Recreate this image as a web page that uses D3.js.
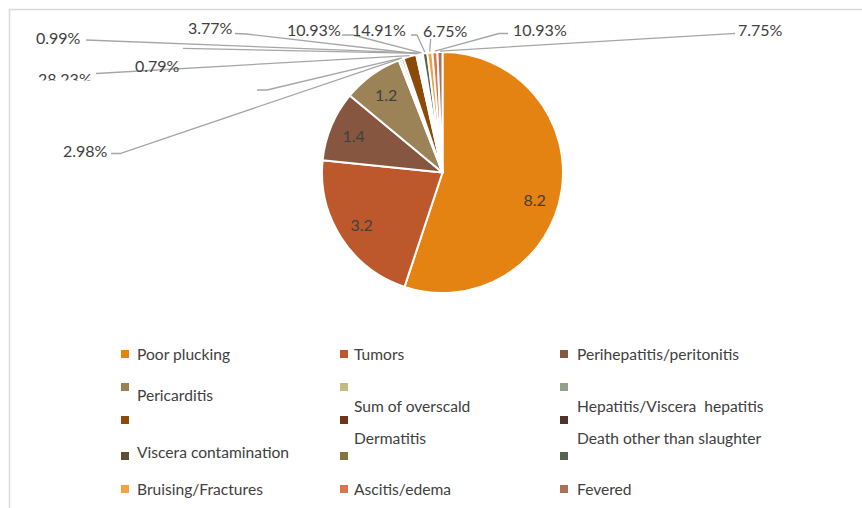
<!DOCTYPE html>
<html>
<head>
<meta charset="utf-8">
<script src="https://cdn.jsdelivr.net/npm/d3@7"></script>
<style>
  html, body { margin: 0; padding: 0; background: #ffffff; }
  svg { display: block; }
  text { font-family: Lato, "Open Sans", sans-serif; }
</style>
</head>
<body>
<svg id="chart" width="862" height="508"></svg>
<script>
// Condemnation causes (values as plotted)
const categories = [
  "Poor plucking", "Tumors", "Perihepatitis/peritonitis", "Pericarditis",
  "Sum of overscald", "Hepatitis/Viscera  hepatitis", "", "Dermatitis",
  "Death other than slaughter", "Viscera contamination", "", "",
  "Bruising/Fractures", "Ascitis/edema", "Fevered"
];
const values = [8.2, 3.2, 1.4, 1.2, 0.05, 0.05, 0.26, 0.03, 0.03, 0.03, 0.04, 0.09, 0.1, 0.1, 0.1];
const colors = [
  "#E48312", "#BD582C", "#865640", "#9B8357", "#C2BC80", "#94A088",
  "#8C4A08", "#71351A", "#503326", "#5D4E34", "#7F7640", "#586250",
  "#F2A043", "#D9754B", "#AE7158"
];
// Value labels shown inside the four large slices
const insideLabels = ["8.2", "3.2", "1.4", "1.2"];
// Percent labels attached to the eleven small slices (index 4..14)
const outsideLabels = ["2.98%", "", "28.23%", "3.77%", "0.79%", "0.99%",
                       "10.93%", "14.91%", "6.75%", "10.93%", "7.75%"];

// ---- layout ----
const W = 862, H = 508;
const cx = 442.5, cy = 172.5, R = 120.5;

const svg = d3.select("#chart");

// chart frame
svg.append("path")
  .attr("d", `M9.5,${H} V9.5 H${W}`)
  .attr("fill", "none")
  .attr("stroke", "#D9D9D9")
  .attr("stroke-width", 1.5);

const pie = d3.pie().sort(null).value(d => d)
  .startAngle(0).endAngle(2 * Math.PI);
const arcs = pie(values);
const arc = d3.arc().innerRadius(0).outerRadius(R);

const g = svg.append("g").attr("transform", `translate(${cx},${cy})`);

g.selectAll("path.slice")
  .data(arcs)
  .join("path")
  .attr("class", "slice")
  .attr("d", arc)
  .attr("fill", (d, i) => colors[i])
  .attr("stroke", "#ffffff")
  .attr("stroke-width", 2)
  .attr("stroke-linejoin", "round");

// inside labels
const labelArc = d3.arc().innerRadius(R * 0.8).outerRadius(R * 0.8);
const insideShift = [[-3, 12], [0, 0], [0, 0], [0, 0]];
g.selectAll("text.inside")
  .data(arcs.slice(0, 4))
  .join("text")
  .attr("class", "inside")
  .attr("x", (d, i) => labelArc.centroid(d)[0] + insideShift[i][0])
  .attr("y", (d, i) => labelArc.centroid(d)[1] + insideShift[i][1])
  .attr("text-anchor", "middle")
  .attr("dominant-baseline", "central")
  .attr("font-size", 16)
  .attr("fill", "#404040")
  .text((d, i) => insideLabels[i]);

// outside label placement: text origin, leader start and elbow (chart coords)
const outsideLayout = [
  { tx: 63,  ty: 157,  start: [111, 153.5], elbow: [120, 153.5] },
  { tx: 0,   ty: 0,    start: [257, 90],    elbow: [267, 90] },
  { tx: 38,  ty: 84.5, start: [96, 73.5],   elbow: null, clip: 80.5 },
  { tx: 188, ty: 33.5, start: [235, 33.5],  elbow: [246, 34] },
  { tx: 135, ty: 71.5, start: [183, 48.3],  elbow: null },
  { tx: 36,  ty: 43.5, start: [86, 40],     elbow: null },
  { tx: 287, ty: 36,   start: [342, 35],    elbow: [353, 35] },
  { tx: 352, ty: 36,   start: [411, 35],    elbow: [417, 35] },
  { tx: 423, ty: 37,   start: [430.7, 39],  elbow: null },
  { tx: 513, ty: 35.5, start: [508, 33.5],  elbow: [499, 33.5] },
  { tx: 738, ty: 35.5, start: [735, 33.5],  elbow: [728, 33.8] }
];

svg.append("clipPath").attr("id", "clipTop")
  .append("rect").attr("x", 0).attr("y", 0).attr("width", W).attr("height", 80.5);

const edgeArc = d3.arc().innerRadius(R + 1).outerRadius(R + 1);
const small = arcs.slice(4);
const leaders = svg.append("g");
small.forEach((d, i) => {
  const L = outsideLayout[i];
  const c = edgeArc.centroid(d);
  const end = [cx + c[0], cy + c[1]];
  const pts = [L.start];
  if (L.elbow) pts.push(L.elbow);
  pts.push(end);
  leaders.append("path")
    .attr("d", d3.line()(pts))
    .attr("fill", "none")
    .attr("stroke", "#A6A6A6")
    .attr("stroke-width", 1.3);
  if (outsideLabels[i]) {
    const t = svg.append("text")
      .attr("x", L.tx).attr("y", L.ty)
      .attr("font-size", 16)
      .attr("fill", "#404040")
      .text(outsideLabels[i]);
    if (L.clip) t.attr("clip-path", "url(#clipTop)");
  }
});

// legend (swatch and text placement per entry)
const legendLayout = [
  { sx: 121, sy: 350, tx: 137, ty: 360 },
  { sx: 340, sy: 350, tx: 354, ty: 360 },
  { sx: 560, sy: 350, tx: 577, ty: 360 },
  { sx: 121, sy: 383, tx: 137, ty: 401 },
  { sx: 340, sy: 383, tx: 354, ty: 412 },
  { sx: 560, sy: 383, tx: 577, ty: 412 },
  { sx: 121, sy: 416, tx: 137, ty: 426 },
  { sx: 340, sy: 416, tx: 354, ty: 444 },
  { sx: 560, sy: 416, tx: 577, ty: 444 },
  { sx: 121, sy: 452, tx: 137, ty: 458 },
  { sx: 340, sy: 452, tx: 354, ty: 462 },
  { sx: 560, sy: 452, tx: 577, ty: 462 },
  { sx: 121, sy: 485, tx: 137, ty: 495 },
  { sx: 340, sy: 485, tx: 354, ty: 495 },
  { sx: 560, sy: 485, tx: 577, ty: 495 }
];
const legend = svg.append("g");
categories.forEach((name, i) => {
  const L = legendLayout[i];
  legend.append("rect")
    .attr("x", L.sx).attr("y", L.sy)
    .attr("width", 8).attr("height", 8)
    .attr("fill", colors[i]);
  if (name) {
    legend.append("text")
      .attr("x", L.tx).attr("y", L.ty)
      .attr("font-size", 15.6)
      .attr("fill", "#404040")
      .attr("xml:space", "preserve")
      .style("white-space", "pre")
      .text(name);
  }
});
</script>
</body>
</html>
